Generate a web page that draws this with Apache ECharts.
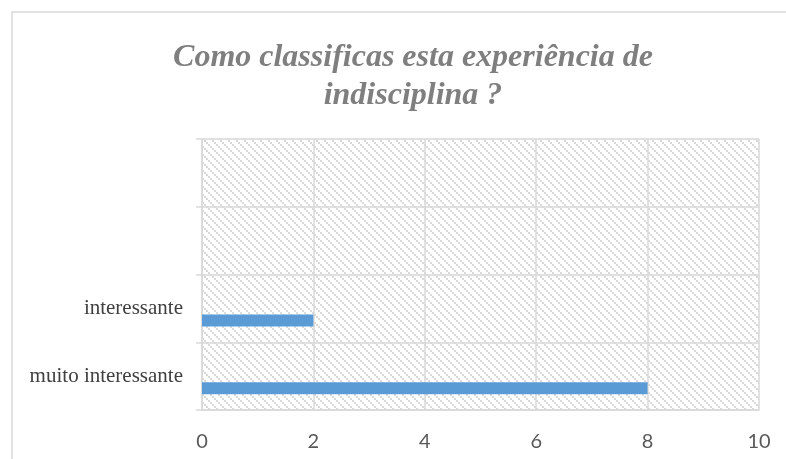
<!DOCTYPE html>
<html>
<head>
<meta charset="utf-8">
<script src="https://cdn.jsdelivr.net/npm/echarts@6/dist/echarts.min.js"></script>
<style>
html,body{margin:0;padding:0;background:#fff;}
#chart{width:786px;height:459px;}
</style>
</head>
<body>
<div id="chart"></div>
<script>
var titleText = 'Como classificas esta experiência de\nindisciplina ?';
var categories = ['muito interessante', 'interessante', ' ', '  '];
var seriesValues = [8, 2, null, null];
var emptyValues = [null, null, null, null];
var xTicks = [0, 2, 4, 6, 8, 10];

function makeHatch() {
  var c = document.createElement('canvas');
  c.width = 8; c.height = 8;
  var ctx = c.getContext('2d');
  ctx.fillStyle = '#ffffff';
  ctx.fillRect(0, 0, 8, 8);
  ctx.fillStyle = '#d9d9d9';
  for (var k = 0; k < 4; k++) {
    ctx.fillRect(k * 2, k * 2, 2, 2);
  }
  return c;
}

var chart = echarts.init(document.getElementById('chart'), null, {renderer: 'canvas'});
var gridColor = '#d9d9d9';
var option = {
  animation: false,
  backgroundColor: '#ffffff',
  title: {
    text: titleText,
    left: 408,
    textAlign: 'center',
    top: 34,
    textStyle: {
      fontFamily: 'Liberation Serif',
      fontStyle: 'italic',
      fontWeight: 'bold',
      fontSize: 32,
      lineHeight: 38,
      color: '#7f7f7f'
    }
  },
  graphic: [{
    type: 'rect',
    shape: {x: 12, y: 12, width: 800, height: 500},
    style: {fill: 'none', stroke: gridColor, lineWidth: 1.5},
    silent: true
  }],
  grid: {
    left: 202, right: 27, top: 139, bottom: 49,
    show: true,
    borderWidth: 0,
    backgroundColor: {image: makeHatch(), repeat: 'repeat'}
  },
  xAxis: {
    type: 'value',
    min: xTicks[0],
    max: xTicks[xTicks.length - 1],
    interval: 2,
    axisLine: {show: true, lineStyle: {color: gridColor, width: 1.5}},
    axisTick: {show: false},
    splitLine: {show: true, lineStyle: {color: gridColor, width: 1.5}},
    axisLabel: {
      margin: 22,
      fontFamily: 'Lato',
      fontSize: 20,
      color: '#595959'
    }
  },
  yAxis: {
    type: 'category',
    data: categories,
    axisLine: {show: true, lineStyle: {color: gridColor, width: 1.5}},
    axisTick: {show: true, length: 6, lineStyle: {color: gridColor, width: 1.5}},
    splitLine: {show: true, lineStyle: {color: gridColor, width: 1.5}},
    axisLabel: {
      margin: 19,
      fontFamily: 'Liberation Serif',
      fontSize: 21,
      color: '#404040'
    }
  },
  series: [
    {type: 'bar', data: emptyValues, barWidth: 12, barGap: '0%'},
    {type: 'bar', data: emptyValues, barWidth: 12, barGap: '0%'},
    {type: 'bar', data: seriesValues, barWidth: 12, barGap: '0%', itemStyle: {color: '#5b9bd5'}}
  ]
};
chart.setOption(option);
</script>
</body>
</html>
